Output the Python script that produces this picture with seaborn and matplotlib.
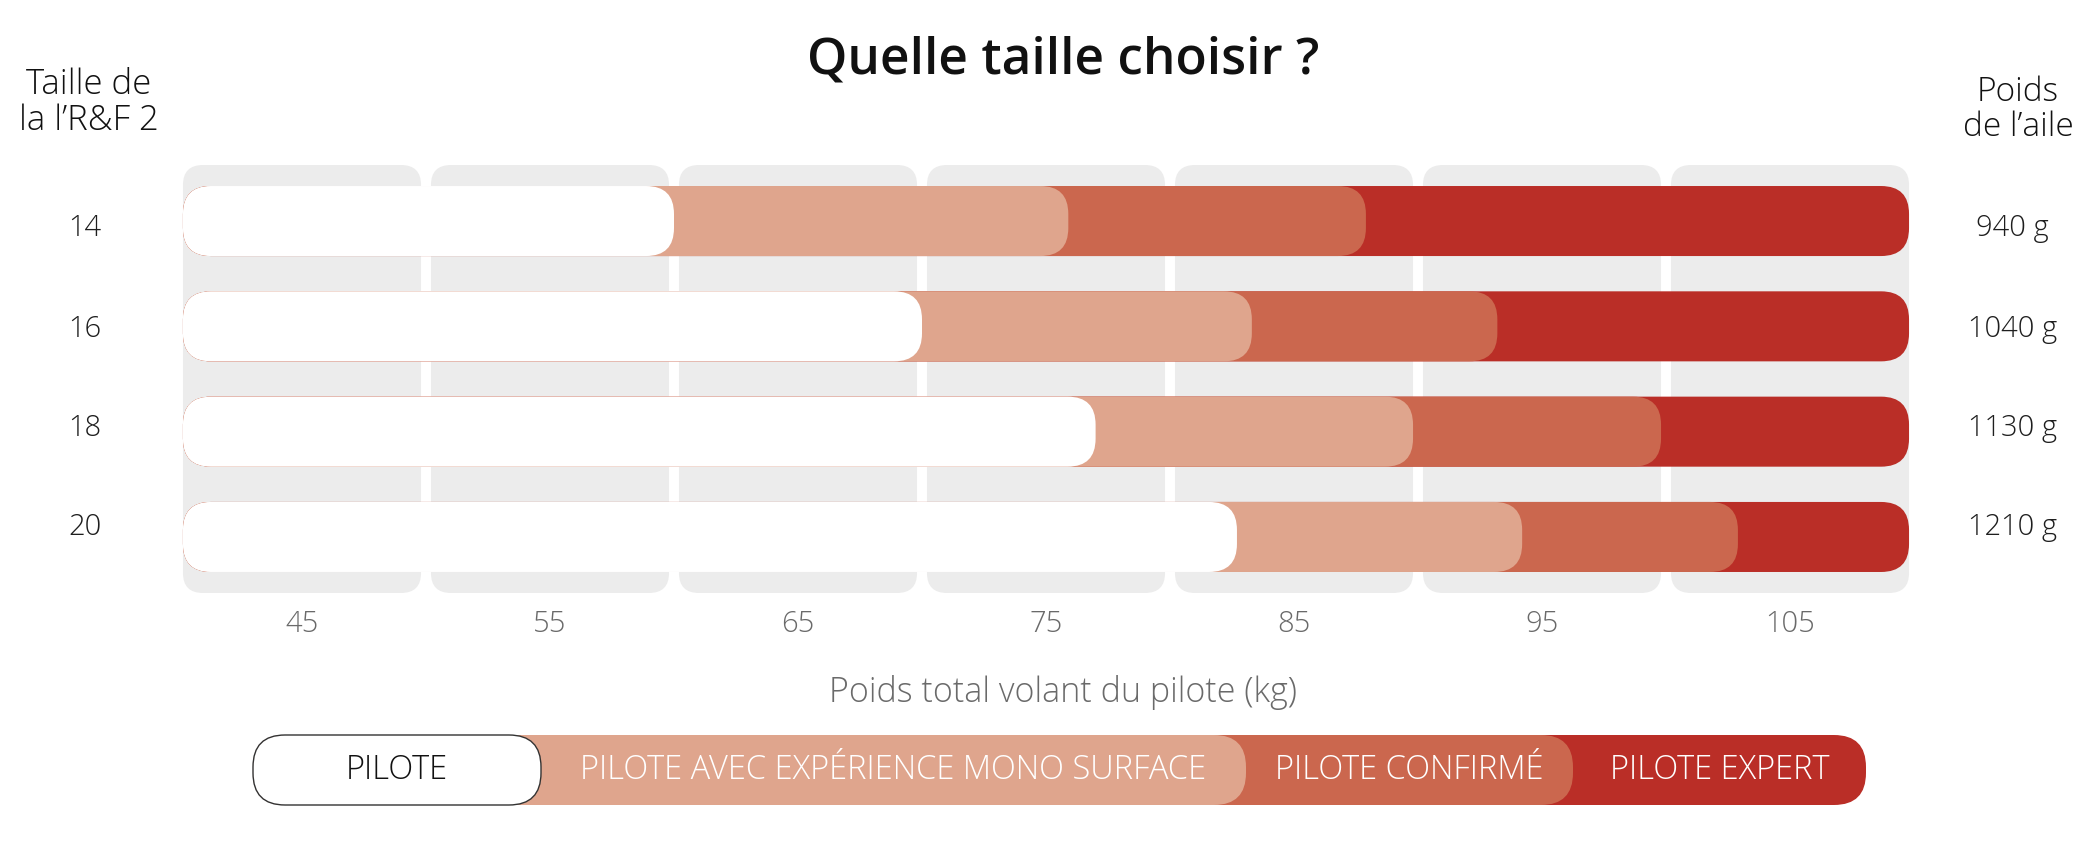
import numpy as np
import matplotlib
matplotlib.use("Agg")
import matplotlib.pyplot as plt
from matplotlib.patches import FancyBboxPatch
import seaborn as sns

# values
sizes = ["14", "16", "18", "20"]
wing_weights = ["940 g", "1040 g", "1130 g", "1210 g"]
range_start = 40.2
pilote_end = [60.0, 70.0, 77.0, 82.7]
experience_end = [75.9, 83.3, 89.8, 94.2]
confirme_end = [87.9, 93.2, 99.8, 102.9]
expert_end = [109.8, 109.8, 109.8, 109.8]
weight_ticks = [45, 55, 65, 75, 85, 95, 105]
levels = ["PILOTE", "PILOTE AVEC EXPÉRIENCE MONO SURFACE", "PILOTE CONFIRMÉ", "PILOTE EXPERT"]
level_colors = ["#FFFFFF", "#DFA58D", "#CB674E", "#BA2E27"]
level_text_colors = ["#111111", "#FFFFFF", "#FFFFFF", "#FFFFFF"]

sns.set_theme(style="white")
plt.rcParams["font.family"] = ["Open Sans", "DejaVu Sans"]
LIGHT = "light"

W, H = 2092, 868
fig = plt.figure(figsize=(W / 100, H / 100), dpi=100)


def px_rect(x0, y0, x1, y1):
    # pixel box (top-left origin) -> figure fraction rect
    return [x0 / W, 1 - y1 / H, (x1 - x0) / W, (y1 - y0) / H]


ax = fig.add_axes(px_rect(178, 165, 1914, 593))

# stacked levels: longest first so the shorter ones sit on top
ends = [pilote_end, experience_end, confirme_end, expert_end]
for end, col in reversed(list(zip(ends, level_colors))):
    n0 = len(ax.patches)
    sns.barplot(x=np.array(end) - range_start, y=sizes, orient="h", color=col,
                saturation=1, width=0.665, errorbar=None, ax=ax, zorder=3)
    for p in ax.patches[n0:]:
        p.set_x(range_start)

# grey background columns, one per 10 kg band
ax.bar(weight_ticks, height=4.064, bottom=-0.532, width=9.6, color="#ECECEC", zorder=1)

ax.set_xlim(40, 110)
ax.set_ylim(3.532, -0.532)


def round_patches(ax, r_px):
    sx = ax.transData.transform((1, 0))[0] - ax.transData.transform((0, 0))[0]
    sy = abs(ax.transData.transform((0, 1))[1] - ax.transData.transform((0, 0))[1])
    for p in list(ax.patches):
        r = r_px[p.get_zorder()]
        rx, ry = r / sx, r / sy
        fb = FancyBboxPatch((p.get_x(), p.get_y()), p.get_width(), p.get_height(),
                            boxstyle=f"round,pad=0,rounding_size={rx}",
                            mutation_aspect=ry / rx, facecolor=p.get_facecolor(),
                            edgecolor="none", zorder=p.get_zorder())
        p.remove()
        ax.add_patch(fb)


round_patches(ax, {1: 20, 3: 28})

# row labels sit on a slightly tighter pitch than the bars in the original
label_pos = [0.04, 0.99, 1.93, 2.87]

for s in ax.spines.values():
    s.set_visible(False)
ax.set_facecolor("none")
ax.set_xticks(weight_ticks)
ax.tick_params(axis="x", length=0, pad=12, labelsize=21, labelcolor="#6a6a6a")
ax.set_yticks(label_pos, sizes)
ax.tick_params(axis="y", length=0, pad=67, labelsize=21, labelcolor="#1e1e1e")
for lab in ax.get_yticklabels() + ax.get_xticklabels():
    lab.set_fontweight(LIGHT)
for lab in ax.get_yticklabels():
    lab.set_horizontalalignment("center")
    lab.set_verticalalignment("center_baseline")
ax.set_xlabel("Poids total volant du pilote (kg)", fontsize=24.5, color="#6a6a6a",
              fontweight=LIGHT, va="center")
ax.xaxis.set_label_coords(0.5098, -0.2336)
ax.set_ylabel("")

ax2 = ax.twinx()
ax2.set_ylim(ax.get_ylim())
ax2.set_yticks(label_pos, wing_weights)
ax2.tick_params(axis="y", length=0, pad=71, labelsize=21, labelcolor="#1e1e1e")
for lab in ax2.get_yticklabels():
    lab.set_horizontalalignment("center")
    lab.set_verticalalignment("center_baseline")
    lab.set_fontweight(LIGHT)
for s in ax2.spines.values():
    s.set_visible(False)

# headers and title
fig.text(1063 / W, 1 - 60 / H, "Quelle taille choisir ?", ha="center", va="center",
         fontsize=37, fontweight="semibold", color="#111111")
fig.text(89 / W, 1 - 103 / H, "Taille de\nla l’R&F 2", ha="center", va="center",
         fontsize=25, fontweight=LIGHT, color="#111111", linespacing=1.05)
fig.text(2018 / W, 1 - 110 / H, "Poids\nde l’aile", ha="center", va="center",
         fontsize=24, fontweight=LIGHT, color="#111111", linespacing=1.05)

# legend drawn as one stacked pill, in pixel coordinates
lg = fig.add_axes([0, 0, 1, 1])
lg.set_xlim(0, W)
lg.set_ylim(H, 0)
lg.axis("off")
leg_left, leg_top, leg_h = 253, 735, 70
leg_ends = [541, 1246, 1573, 1866]
for i in reversed(range(len(levels))):
    edge = "#333333" if i == 0 else "none"
    lg.add_patch(FancyBboxPatch((leg_left, leg_top), leg_ends[i] - leg_left, leg_h,
                                boxstyle="round,pad=0,rounding_size=32",
                                facecolor=level_colors[i], edgecolor=edge, linewidth=1.0))
starts = [leg_left] + leg_ends[:-1]
for i, name in enumerate(levels):
    lg.text((starts[i] + leg_ends[i]) / 2, leg_top + leg_h / 2, name, ha="center",
            va="center", fontsize=23.5, fontweight=LIGHT, color=level_text_colors[i])

fig.savefig("out.png", dpi=100)
